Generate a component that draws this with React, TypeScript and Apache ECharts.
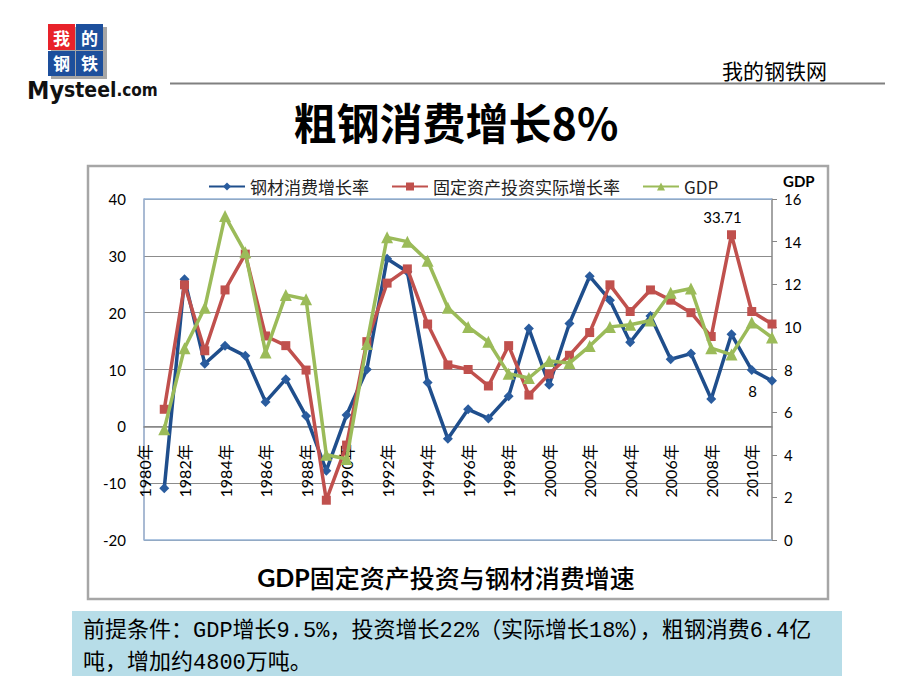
import React, { useEffect, useRef } from "react";
import * as echarts from "echarts";

const years = [
  "1980年", "1981年", "1982年", "1983年", "1984年", "1985年", "1986年", "1987年",
  "1988年", "1989年", "1990年", "1991年", "1992年", "1993年", "1994年", "1995年",
  "1996年", "1997年", "1998年", "1999年", "2000年", "2001年", "2002年", "2003年",
  "2004年", "2005年", "2006年", "2007年", "2008年", "2009年", "2010年", "2011年",
];

// 钢材消费增长率 (left axis, %)
const steelGrowth = [
  null, -10.9, 25.9, 11.0, 14.2, 12.4, 4.3, 8.3, 1.8, -7.8, 2.0, 10.0, 29.5, 27.2, 7.7, -2.2,
  3.0, 1.4, 5.3, 17.2, 7.3, 18.1, 26.4, 22.2, 14.8, 19.4, 11.8, 12.8, 4.8, 16.2, 9.9, 8.0,
];

// 固定资产投资实际增长率 (left axis, %)
const investGrowth = [
  null, 3.0, 24.9, 13.3, 24.0, 30.3, 15.9, 14.2, 9.9, -13.0, -3.3, 14.9, 25.2, 27.7, 18.0, 10.8,
  10.0, 7.1, 14.2, 5.5, 9.2, 12.5, 16.5, 24.9, 20.2, 24.0, 22.2, 20.0, 15.8, 33.71, 20.2, 18.0,
];

// GDP (right axis, %)
const gdpGrowth = [
  null, 5.2, 9.0, 10.9, 15.2, 13.5, 8.8, 11.5, 11.3, 4.0, 3.8, 9.2, 14.2, 14.0, 13.1, 10.9,
  10.0, 9.3, 7.8, 7.6, 8.4, 8.3, 9.1, 10.0, 10.1, 10.3, 11.6, 11.8, 9.0, 8.7, 10.2, 9.5,
];

const seriesNames = ["钢材消费增长率", "固定资产投资实际增长率", "GDP"];
const leftTicks = { min: -20, max: 40, interval: 10 };
const rightTicks = { min: 0, max: 16, interval: 2 };
const labelledInvestYear = "2009年";
const labelledSteelYear = "2011年";

const CJK = "'Noto Sans CJK SC'";
const LATIN = "Lato, 'Noto Sans CJK SC'";
const LOGO = "'DejaVu Sans Condensed', 'DejaVu Sans'";

const GRID = { left: 144, right: 148, top: 199, bottom: 150 };

export default function App() {
  const ref = useRef<HTMLDivElement>(null);

  useEffect(() => {
    if (!ref.current) return;
    const chart = echarts.init(ref.current, undefined, { renderer: "svg" });

    const investIdx = years.indexOf(labelledInvestYear);
    const steelIdx = years.indexOf(labelledSteelYear);

    // x axis sits on the left axis' zero line
    const plotHeight = 690 - GRID.top - GRID.bottom;
    const zeroOffset = -((0 - leftTicks.min) / (leftTicks.max - leftTicks.min)) * plotHeight;

    const steelData = steelGrowth.map((v, i) =>
      i === steelIdx
        ? {
            value: v,
            label: {
              show: true,
              position: "left",
              distance: 10,
              offset: [0, 10],
              formatter: "{c}",
              fontSize: 15,
              color: "#000",
              fontFamily: LATIN,
            },
          }
        : v
    );
    const investData = investGrowth.map((v, i) =>
      i === investIdx
        ? {
            value: v,
            label: {
              show: true,
              position: "top",
              distance: 6,
              offset: [-9, 0],
              formatter: "{c}",
              fontSize: 15,
              color: "#000",
              fontFamily: LATIN,
            },
          }
        : v
    );

    const cellText = (t: string, x: number, y: number) => ({
      type: "text",
      x,
      y,
      z: 3,
      style: {
        text: t,
        fill: "#fff",
        fontSize: 17,
        lineHeight: 16,
        fontWeight: "bold",
        fontFamily: CJK,
        align: "center",
        verticalAlign: "middle",
      },
    });

    const option: any = {
      animation: false,
      backgroundColor: "#ffffff",
      textStyle: { fontFamily: LATIN },
      grid: { ...GRID, show: false },
      legend: {
        left: 208,
        top: 178,
        padding: 0,
        itemWidth: 36,
        itemHeight: 10,
        itemGap: 22,
        data: seriesNames,
        textStyle: { fontSize: 17, color: "#222", fontFamily: CJK },
      },
      xAxis: {
        type: "category",
        data: years,
        boundaryGap: false,
        offset: zeroOffset,
        axisLine: { onZero: false, lineStyle: { color: "#868686", width: 1.5 } },
        axisTick: { show: false },
        axisLabel: { interval: 1, rotate: 90, margin: 18, fontSize: 16, color: "#000", fontFamily: LATIN },
        splitLine: { show: false },
      },
      yAxis: [
        {
          type: "value",
          ...leftTicks,
          axisLine: { show: true, lineStyle: { color: "#8da3c4", width: 1.5 } },
          axisTick: { show: false },
          axisLabel: { margin: 18, fontSize: 15, color: "#000", fontFamily: LATIN },
          splitLine: { show: true, lineStyle: { color: "#8c8c8c", width: 1.2 } },
        },
        {
          type: "value",
          position: "right",
          ...rightTicks,
          axisLine: { show: true, lineStyle: { color: "#868686", width: 1.5 } },
          axisTick: { show: true, inside: false, length: 5, lineStyle: { color: "#868686" } },
          axisLabel: { margin: 12, fontSize: 15, color: "#000", fontFamily: LATIN },
          splitLine: { show: false },
        },
      ],
      series: [
        {
          name: seriesNames[0],
          type: "line",
          yAxisIndex: 0,
          data: steelData,
          symbol: "diamond",
          symbolSize: 10,
          showAllSymbol: true,
          lineStyle: { width: 3.5, color: "#1f4e8c" },
          itemStyle: { color: "#2a5c9e" },
          z: 3,
        },
        {
          name: seriesNames[1],
          type: "line",
          yAxisIndex: 0,
          data: investData,
          symbol: "rect",
          symbolSize: 9,
          showAllSymbol: true,
          lineStyle: { width: 3.5, color: "#c0504d" },
          itemStyle: { color: "#c0504d" },
          z: 4,
        },
        {
          name: seriesNames[2],
          type: "line",
          yAxisIndex: 1,
          data: gdpGrowth,
          symbol: "triangle",
          symbolSize: 12,
          showAllSymbol: true,
          lineStyle: { width: 3.5, color: "#9bbb59" },
          itemStyle: { color: "#9bbb59" },
          z: 5,
        },
      ],
      graphic: {
        elements: [
          // logo
          { type: "rect", shape: { x: 51, y: 27, width: 56, height: 52 }, style: { fill: "#a6a6a6" }, z: 1 },
          { type: "rect", shape: { x: 48, y: 24, width: 27, height: 26 }, style: { fill: "#e8222a" }, z: 2 },
          { type: "rect", shape: { x: 76, y: 24, width: 27, height: 26 }, style: { fill: "#1d4f9c" }, z: 2 },
          { type: "rect", shape: { x: 48, y: 51, width: 27, height: 25 }, style: { fill: "#1d4f9c" }, z: 2 },
          { type: "rect", shape: { x: 76, y: 51, width: 27, height: 25 }, style: { fill: "#1d4f9c" }, z: 2 },
          cellText("我", 61.5, 37),
          cellText("的", 89.5, 37),
          cellText("钢", 61.5, 62),
          cellText("铁", 89.5, 62),
          {
            type: "text",
            x: 27,
            y: 101,
            z: 3,
            style: {
              text: "{a|My}{b|steel}{c|.com}",
              verticalAlign: "bottom",
              rich: {
                a: { fontSize: 25, lineHeight: 22, fontWeight: "bold", fill: "#111", fontFamily: LOGO },
                b: { fontSize: 21, lineHeight: 20, fontWeight: "bold", fill: "#111", fontFamily: LOGO },
                c: { fontSize: 17, lineHeight: 16, fontWeight: "bold", fill: "#111", fontFamily: LOGO },
              },
            },
          },
          // header
          { type: "text", x: 722, y: 70, style: { text: "我的钢铁网", fill: "#000", fontSize: 21, fontFamily: CJK, verticalAlign: "middle" } },
          { type: "line", shape: { x1: 170, y1: 83.5, x2: 885, y2: 83.5 }, style: { stroke: "#808080", lineWidth: 2 } },
          // title
          { type: "text", x: 456, y: 121, style: { text: "粗钢消费增长8%", fill: "#000", fontSize: 43, fontWeight: "bold", fontFamily: CJK, align: "center", verticalAlign: "middle" } },
          // chart frame
          { type: "rect", shape: { x: 88, y: 166, width: 740, height: 433 }, style: { fill: "none", stroke: "#a6a6a6", lineWidth: 2.5 }, z: 0 },
          // plot border top / bottom
          { type: "line", shape: { x1: 144, y1: 199, x2: 772, y2: 199 }, style: { stroke: "#95b3d7", lineWidth: 1.5 }, z: 1 },
          { type: "line", shape: { x1: 144, y1: 540, x2: 772, y2: 540 }, style: { stroke: "#95b3d7", lineWidth: 1.5 }, z: 1 },
          // right axis title
          { type: "text", x: 783, y: 181, style: { text: "GDP", fill: "#000", fontSize: 15, fontWeight: "bold", fontFamily: LATIN, verticalAlign: "middle" } },
          // chart title
          {
            type: "text",
            x: 446,
            y: 577,
            style: {
              text: "{g|GDP}{c|固定资产投资与钢材消费增速}",
              align: "center",
              verticalAlign: "middle",
              rich: {
                g: { fontSize: 25, fontWeight: "bold", fill: "#000", fontFamily: LATIN },
                c: { fontSize: 25, fontWeight: 500, fill: "#000", fontFamily: CJK },
              },
            },
          },
          // bottom note box
          { type: "rect", shape: { x: 72, y: 611, width: 770, height: 65 }, style: { fill: "#b7dde8" } },
          {
            type: "text",
            x: 83,
            y: 631,
            style: {
              text: "前提条件：GDP增长9.5%，投资增长22%（实际增长18%），粗钢消费6.4亿",
              fill: "#000",
              fontSize: 22,
              lineHeight: 24,
              fontFamily: "'Liberation Mono', 'Noto Sans CJK SC'",
              verticalAlign: "middle",
            },
          },
          {
            type: "text",
            x: 83,
            y: 663,
            style: {
              text: "吨，增加约4800万吨。",
              fill: "#000",
              fontSize: 22,
              lineHeight: 24,
              fontFamily: "'Liberation Mono', 'Noto Sans CJK SC'",
              verticalAlign: "middle",
            },
          },
        ],
      },
    };

    chart.setOption(option);
    return () => chart.dispose();
  }, []);

  return (
    <div
      ref={ref}
      style={{ position: "fixed", left: 0, top: 0, width: 920, height: 690, background: "#fff" }}
    />
  );
}
